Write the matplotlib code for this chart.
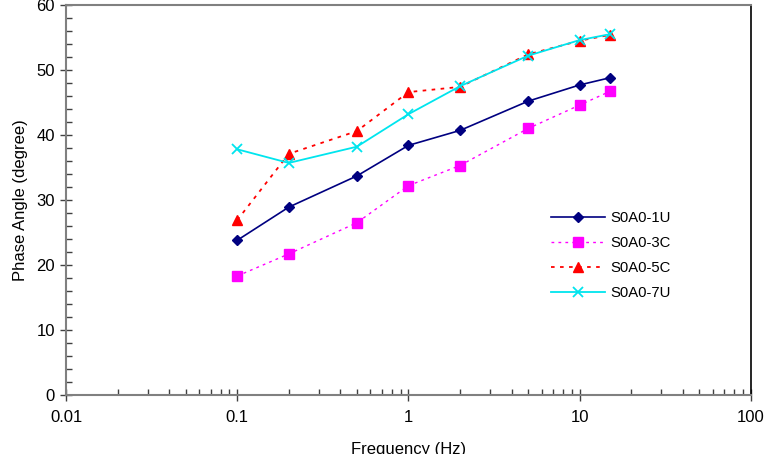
import matplotlib
matplotlib.use("Agg")
import matplotlib.pyplot as plt
from matplotlib.ticker import LogLocator, MultipleLocator, FixedLocator, NullFormatter

plt.rcParams['font.family'] = ['Liberation Sans', 'DejaVu Sans']

freq = [0.1, 0.2, 0.5, 1, 2, 5, 10, 15]
s1u = [23.8, 28.9, 33.7, 38.4, 40.7, 45.2, 47.7, 48.8]
s3c = [18.3, 21.7, 26.5, 32.2, 35.3, 41.0, 44.6, 46.7]
s5c = [26.9, 37.1, 40.6, 46.6, 47.4, 52.4, 54.5, 55.4]
s7u = [37.8, 35.7, 38.2, 43.2, 47.5, 52.2, 54.6, 55.5]
labels = ["S0A0-1U", "S0A0-3C", "S0A0-5C", "S0A0-7U"]
xticks = [0.01, 0.1, 1, 10, 100]
xticklabels = ["0.01", "0.1", "1", "10", "100"]

fig = plt.figure(figsize=(7.66, 4.54), dpi=100)
ax = fig.add_axes([0.0862, 0.130, 0.894, 0.859])

ax.plot(freq, s1u, color='#000080', lw=1.2, marker='D', ms=5, label=labels[0])
ax.plot(freq, s3c, color='#FF00FF', lw=1.0, ls=(0, (2, 3)), marker='s', ms=6.5, label=labels[1])
ax.plot(freq, s5c, color='#FF0000', lw=1.3, ls=(0, (2, 3)), marker='^', ms=7, label=labels[2])
ax.plot(freq, s7u, color='#00E5EE', lw=1.3, marker='x', ms=7, mew=1.3, label=labels[3])

ax.set_xscale('log')
ax.set_xlim(0.01, 100)
ax.set_ylim(0, 60)
ax.xaxis.set_major_locator(FixedLocator(xticks))
ax.set_xticklabels(xticklabels)
ax.xaxis.set_minor_locator(LogLocator(base=10, subs=range(2, 10)))
ax.xaxis.set_minor_formatter(NullFormatter())
ax.yaxis.set_major_locator(MultipleLocator(10))
ax.yaxis.set_minor_locator(MultipleLocator(2))

ax.tick_params(axis='both', which='major', direction='inout', length=8, width=1, labelsize=12, color='#404040')
ax.tick_params(axis='both', which='minor', direction='in', length=4, width=1, color='#404040')
ax.tick_params(axis='x', which='major', pad=7)
ax.tick_params(axis='y', which='major', pad=4)

for side in ['top', 'left', 'bottom']:
    ax.spines[side].set_color('#808080')
    ax.spines[side].set_linewidth(1.5)
ax.spines['right'].set_color('black')
ax.spines['right'].set_linewidth(1.2)

ax.set_xlabel('Frequency (Hz)', fontsize=12, labelpad=12)
ax.set_ylabel('Phase Angle (degree)', fontsize=12, labelpad=6)

leg = ax.legend(loc='upper left', bbox_to_anchor=(0.70, 0.487), frameon=False, fontsize=10.7,
                handlelength=3.6, labelspacing=0.75, handletextpad=0.4, borderaxespad=0)

fig.savefig('out.png', dpi=100)
